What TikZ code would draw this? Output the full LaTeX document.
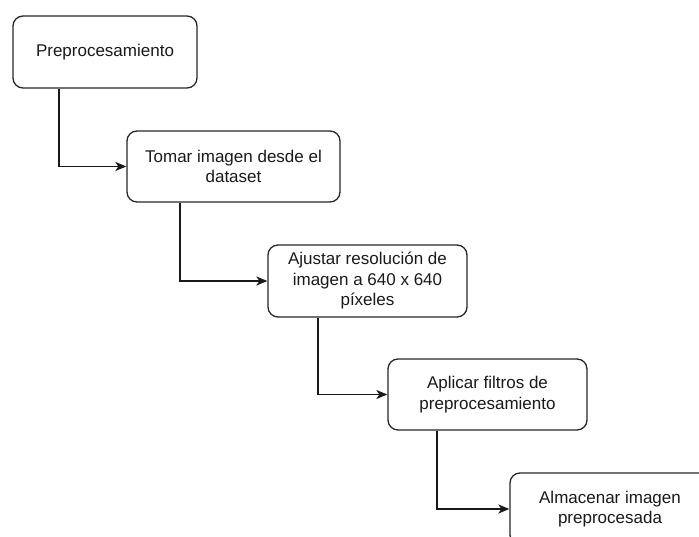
\documentclass[tikz,border=0pt]{standalone}
\usepackage{fontspec}
\setmainfont{Liberation Sans}
\usetikzlibrary{arrows.meta}
\begin{document}
\begin{tikzpicture}[x=1pt,y=-1pt,
  stepbox/.style={draw=black!85, rounded corners=10pt, line width=1.3pt,
    align=center, inner sep=0pt, text=black!90,
    font=\fontsize{17}{20.5}\selectfont},
  link/.style={-{Stealth[length=11pt,width=9pt,inset=3pt]}, line width=1.3pt, draw=black!90}]
\useasboundingbox (0,0) rectangle (699,537);
\clip (0,0) rectangle (699,537);

% process steps
\node[stepbox, minimum width=184pt, minimum height=72pt] (b1) at (105,52) {Preprocesamiento};
\node[stepbox, minimum width=213pt, minimum height=71pt] (b2) at (233.5,166.5) {Tomar imagen desde el\\dataset};
\node[stepbox, minimum width=199pt, minimum height=72pt] (b3) at (367.5,281) {Ajustar resolución de\\imagen a 640 x 640\\píxeles};
\node[stepbox, minimum width=199pt, minimum height=71pt] (b4) at (487.5,394.5) {Aplicar filtros de\\preprocesamiento};
\node[stepbox, minimum width=200pt, minimum height=72pt] (b5) at (610,509) {Almacenar imagen\\preprocesada};

% columns of the elbow connectors
\coordinate (c1) at (59,0);
\coordinate (c2) at (180,0);
\coordinate (c3) at (318,0);
\coordinate (c4) at (437,0);

\draw[link] (b1.south -| c1) |- (b2.west);
\draw[link] (b2.south -| c2) |- (b3.west);
\draw[link] (b3.south -| c3) |- (b4.west);
\draw[link] (b4.south -| c4) |- (b5.west);
\end{tikzpicture}
\end{document}
